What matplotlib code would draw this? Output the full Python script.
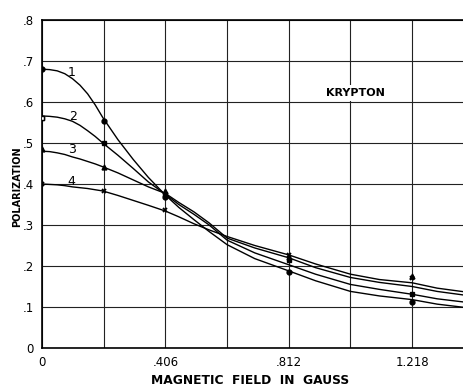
import numpy as np
import matplotlib
matplotlib.use('Agg')
import matplotlib.pyplot as plt

# Curvas (campo magnetico en gauss)
campo = [0, 0.025, 0.05, 0.075, 0.1, 0.125, 0.15, 0.175, 0.2, 0.25, 0.3, 0.35, 0.406, 0.45,
         0.5, 0.55, 0.609, 0.7, 0.812, 0.9, 1.015, 1.11, 1.218, 1.3, 1.39]
curva_1 = [0.680, 0.679, 0.676, 0.669, 0.657, 0.641, 0.620, 0.593, 0.562, 0.508, 0.460, 0.416,
           0.373, 0.343, 0.313, 0.284, 0.252, 0.218, 0.188, 0.164, 0.138, 0.127, 0.118, 0.107, 0.099]
curva_2 = [0.566, 0.565, 0.563, 0.559, 0.553, 0.543, 0.530, 0.516, 0.500, 0.470, 0.438, 0.405,
           0.375, 0.350, 0.326, 0.300, 0.263, 0.232, 0.203, 0.180, 0.155, 0.143, 0.131, 0.120, 0.112]
curva_3 = [0.480, 0.479, 0.476, 0.472, 0.466, 0.461, 0.455, 0.449, 0.442, 0.427, 0.410, 0.393,
           0.377, 0.355, 0.332, 0.305, 0.268, 0.244, 0.220, 0.196, 0.172, 0.160, 0.150, 0.138, 0.129]
curva_4 = [0.400, 0.399, 0.398, 0.396, 0.393, 0.391, 0.389, 0.386, 0.383, 0.372, 0.360, 0.348,
           0.334, 0.320, 0.303, 0.288, 0.272, 0.250, 0.227, 0.205, 0.180, 0.167, 0.159, 0.146, 0.137]

# Puntos medidos
campo_med = [0, 0.203, 0.406, 0.812, 1.218]
med_1 = [0.680, 0.553, 0.368, 0.186, 0.113]
med_2 = [0.560, 0.500, 0.375, 0.215, 0.132]
med_3 = [0.485, 0.442, 0.382, 0.222, 0.175]
med_4 = [0.400, 0.383, 0.336, 0.228, 0.170]

etiquetas = ['1', '2', '3', '4']
pos_etiquetas = [(0.099, 0.673), (0.101, 0.565), (0.098, 0.483), (0.096, 0.407)]

ticks_x = [0, 0.203, 0.406, 0.609, 0.812, 1.015, 1.218]
labels_x = ['0', '', '.406', '', '.812', '', '1.218']
ticks_y = [0, 0.1, 0.2, 0.3, 0.4, 0.5, 0.6, 0.7, 0.8]
labels_y = ['0', '.1', '.2', '.3', '.4', '.5', '.6', '.7', '.8']

fig = plt.figure(figsize=(4.64, 3.86), dpi=100)
ax = fig.add_axes([42/464, 1 - 348/386, (480 - 42)/464, 328/386])

for c in [curva_1, curva_2, curva_3, curva_4]:
    ax.plot(campo, c, color='black', lw=1.0, zorder=3)

ax.plot(campo_med, med_1, 'o', color='black', ms=3.5, zorder=4)
ax.plot(campo_med, med_2, 's', color='black', ms=3.5, zorder=4)
ax.plot(campo_med[:1], med_2[:1], 's', mfc='white', mec='black', ms=3.5, zorder=5)
ax.plot(campo_med, med_3, '^', color='black', ms=3.5, zorder=4)
ax.plot(campo_med, med_4, 'x', color='black', ms=3.5, mew=1.3, zorder=4)

for t, (xe, ye) in zip(etiquetas, pos_etiquetas):
    ax.text(xe, ye, t, fontsize=9, ha='center', va='center', color='black')

ax.text(1.03, 0.622, 'KRYPTON', fontsize=8, fontweight='bold', ha='center', va='center',
        bbox=dict(facecolor='white', edgecolor='none', pad=2), zorder=6)

ax.set_xlim(0, (480 - 42) * 0.203 / 61.7)
ax.set_ylim(0, 0.8)
ax.set_xticks(ticks_x)
ax.set_xticklabels(labels_x)
ax.set_yticks(ticks_y)
ax.set_yticklabels(labels_y)
ax.tick_params(length=0, labelsize=8.5, pad=6)
ax.grid(True, color='#222222', lw=0.8)
ax.set_axisbelow(True)
for s in ax.spines.values():
    s.set_linewidth(1.2)
ax.spines['right'].set_visible(False)

fig.text(17/464, 1 - 187/386, 'POLARIZATION', rotation=90, fontsize=7, fontweight='bold',
         ha='center', va='center')
fig.text(250/464, 1 - 380/386, 'MAGNETIC  FIELD  IN  GAUSS', fontsize=8.8, fontweight='bold',
         ha='center', va='center')

fig.savefig('out.png', dpi=100)
